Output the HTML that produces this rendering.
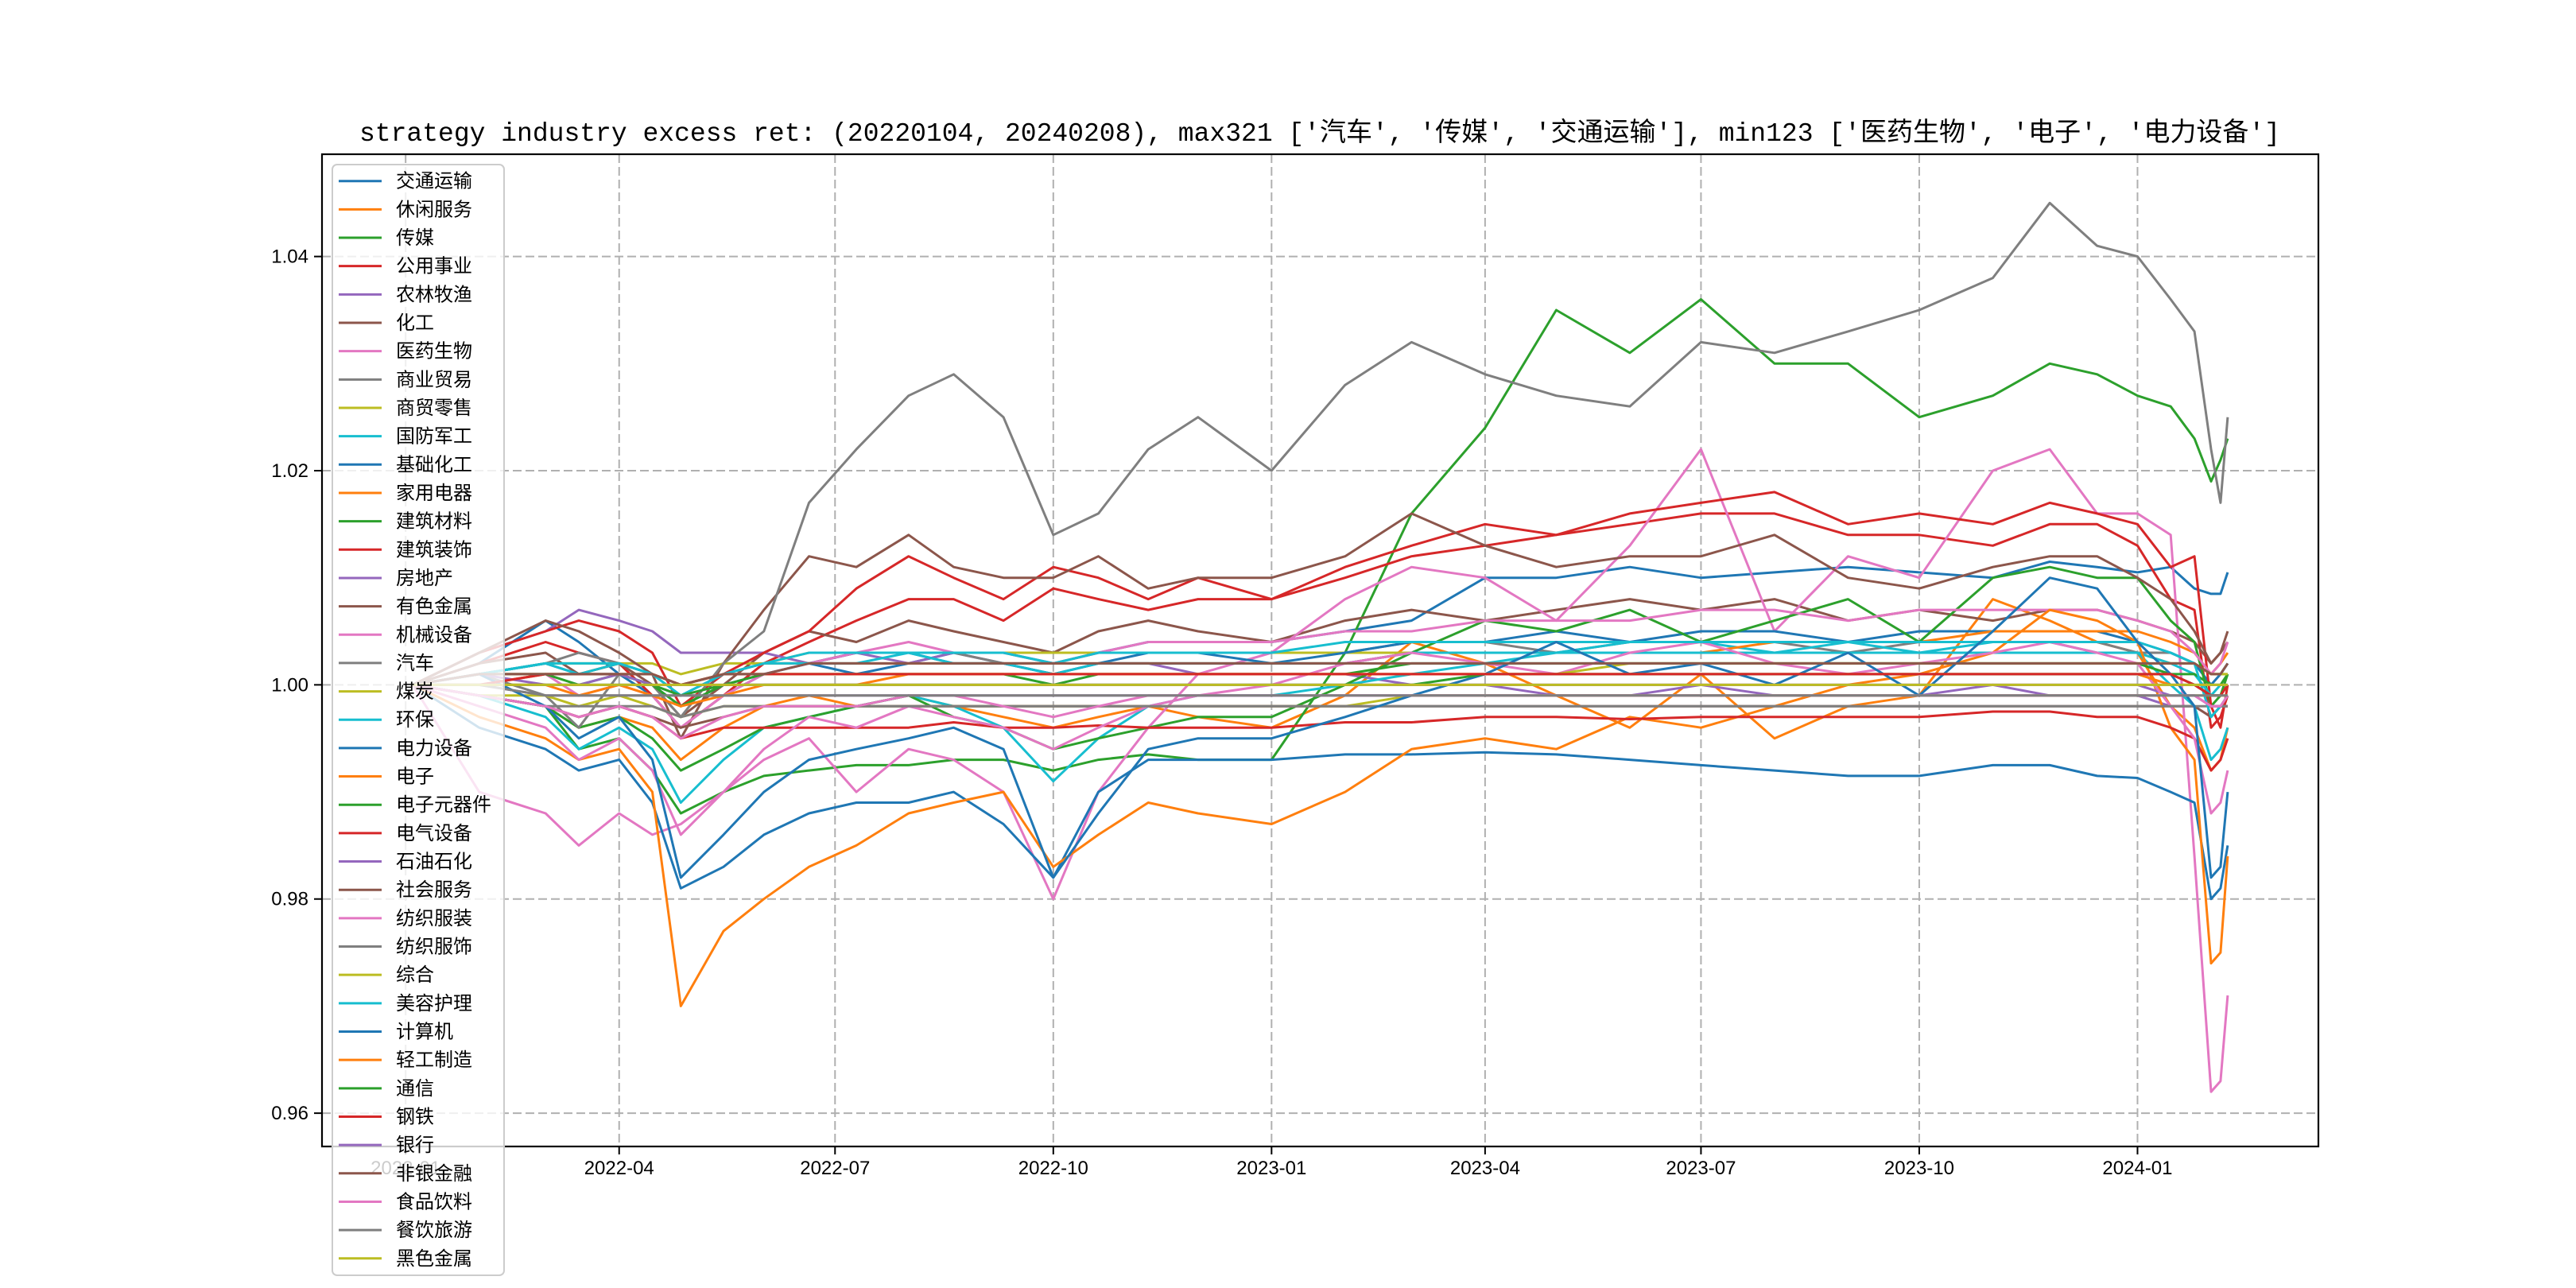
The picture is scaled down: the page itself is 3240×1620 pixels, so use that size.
<!DOCTYPE html>
<html><head><meta charset="utf-8">
<style>
html,body{margin:0;padding:0;background:#fff;}
svg{display:block;}
text{font-family:"Liberation Sans","Noto Sans CJK SC",sans-serif;}
</style></head>
<body>
<svg id="chart" width="3240" height="1620" viewBox="0 0 3240 1620" xmlns="http://www.w3.org/2000/svg">
  <rect x="0" y="0" width="3240" height="1620" fill="#fff"/>
  <text x="1660" y="177" text-anchor="middle" font-size="33" textLength="2416" lengthAdjust="spacingAndGlyphs" style="font-family:'Liberation Mono','Noto Sans CJK SC',monospace">strategy industry excess ret: (20220104, 20240208), max321 ['汽车', '传媒', '交通运输'], min123 ['医药生物', '电子', '电力设备']</text>
  <defs><clipPath id="plotclip"><rect x="405" y="194" width="2511" height="1248"/></clipPath></defs>
  <g id="grid"></g>
  <g id="series" clip-path="url(#plotclip)"></g>
  <rect x="405" y="194" width="2511" height="1248" fill="none" stroke="#000" stroke-width="2.2"/>
  <g id="ticks"></g>
  <g id="legend"></g>
</svg>
<script>
const dates = ['2022-01-04','2022-02-01','2022-03-01','2022-03-15','2022-04-01','2022-04-15','2022-04-27','2022-05-15','2022-06-01','2022-06-20','2022-07-10','2022-08-01','2022-08-20','2022-09-10','2022-10-01','2022-10-20','2022-11-10','2022-12-01','2023-01-01','2023-02-01','2023-03-01','2023-04-01','2023-05-01','2023-06-01','2023-07-01','2023-08-01','2023-09-01','2023-10-01','2023-11-01','2023-11-25','2023-12-15','2024-01-01','2024-01-15','2024-01-25','2024-02-01','2024-02-05','2024-02-08'];
const names = ['交通运输','休闲服务','传媒','公用事业','农林牧渔','化工','医药生物','商业贸易','商贸零售','国防军工','基础化工','家用电器','建筑材料','建筑装饰','房地产','有色金属','机械设备','汽车','煤炭','环保','电力设备','电子','电子元器件','电气设备','石油石化','社会服务','纺织服装','纺织服饰','综合','美容护理','计算机','轻工制造','通信','钢铁','银行','非银金融','食品饮料','餐饮旅游','黑色金属'];
const yTicks = [0.96,0.98,1.00,1.02,1.04];
const yTickLabels = ['0.96','0.98','1.00','1.02','1.04'];
const xTicks = ['2022-01-01','2022-04-01','2022-07-01','2022-10-01','2023-01-01','2023-04-01','2023-07-01','2023-10-01','2024-01-01'];
const xTickLabels = ['2022-01','2022-04','2022-07','2022-10','2023-01','2023-04','2023-07','2023-10','2024-01'];

const v0 = [1.000,1.002,1.006,1.004,1.001,0.999,0.996,0.999,1.001,1.002,1.001,1.002,1.003,1.003,1.002,1.003,1.004,1.004,1.004,1.005,1.006,1.010,1.010,1.011,1.010,1.0105,1.011,1.0105,1.010,1.0115,1.011,1.0105,1.011,1.009,1.0085,1.0085,1.0105];
const v1 = [1.000,0.999,0.998,0.996,0.997,0.996,0.993,0.996,0.998,0.999,0.998,0.999,0.998,0.997,0.996,0.997,0.998,0.997,0.996,0.999,1.004,1.002,0.999,0.996,1.001,0.995,0.998,0.999,1.008,1.006,1.004,1.003,0.998,0.996,0.992,0.993,0.996];
const v2 = [1.000,0.999,0.998,0.994,0.995,0.992,0.988,0.990,0.9915,0.992,0.9925,0.9925,0.993,0.993,0.992,0.993,0.9935,0.993,0.993,1.003,1.016,1.024,1.035,1.031,1.036,1.030,1.030,1.025,1.027,1.030,1.029,1.027,1.026,1.023,1.019,1.021,1.023];
const v3 = [1.000,1.002,1.004,1.003,1.002,0.999,0.996,0.999,1.002,1.004,1.006,1.008,1.008,1.006,1.009,1.008,1.007,1.008,1.008,1.010,1.012,1.013,1.014,1.015,1.016,1.016,1.014,1.014,1.013,1.015,1.015,1.013,1.008,1.007,0.996,0.997,0.999];
const v4 = [1.000,1.003,1.005,1.007,1.006,1.005,1.003,1.003,1.003,1.002,1.003,1.002,1.003,1.002,1.001,1.002,1.002,1.001,1.001,1.001,1.000,1.000,0.999,0.999,1.000,0.999,0.999,0.999,1.000,0.999,0.999,0.999,0.998,0.998,0.997,0.998,0.998];
const v5 = [1.000,1.002,1.003,1.001,1.002,1.000,0.997,1.000,1.003,1.005,1.004,1.006,1.005,1.004,1.003,1.005,1.006,1.005,1.004,1.006,1.007,1.006,1.007,1.008,1.007,1.008,1.006,1.007,1.006,1.007,1.007,1.006,1.005,1.004,1.002,1.003,1.004];
const v6 = [1.000,0.990,0.988,0.985,0.988,0.986,0.987,0.990,0.993,0.995,0.990,0.994,0.993,0.990,0.980,0.990,0.996,1.001,1.003,1.008,1.011,1.010,1.006,1.013,1.022,1.005,1.012,1.010,1.020,1.022,1.016,1.016,1.014,0.984,0.962,0.963,0.971];
const v7 = [1.000,1.001,1.002,1.003,1.002,1.001,1.000,1.001,1.002,1.002,1.003,1.003,1.003,1.002,1.002,1.003,1.003,1.003,1.003,1.003,1.004,1.004,1.003,1.004,1.004,1.004,1.003,1.004,1.004,1.004,1.004,1.003,1.003,1.002,1.001,1.001,1.002];
const v8 = [1.000,1.001,1.002,1.002,1.002,1.002,1.001,1.002,1.002,1.003,1.003,1.003,1.003,1.003,1.003,1.003,1.003,1.003,1.003,1.003,1.003,1.003,1.003,1.003,1.003,1.003,1.003,1.003,1.003,1.003,1.003,1.003,1.002,1.002,1.001,1.001,1.001];
const v9 = [1.000,0.999,0.997,0.994,0.996,0.994,0.989,0.993,0.996,0.997,0.998,0.999,0.998,0.996,0.991,0.995,0.998,0.999,0.999,1.000,1.001,1.002,1.003,1.004,1.004,1.003,1.004,1.003,1.004,1.004,1.003,1.003,1.000,0.998,0.993,0.994,0.996];
const v10 = [1.000,1.001,1.002,1.001,1.001,1.000,0.998,1.000,1.001,1.002,1.003,1.003,1.002,1.002,1.001,1.002,1.003,1.003,1.002,1.003,1.004,1.004,1.005,1.004,1.005,1.005,1.004,1.005,1.005,1.005,1.005,1.004,1.003,1.002,1.000,1.001,1.002];
const v11 = [1.000,1.000,1.001,1.001,1.002,1.001,1.000,1.001,1.002,1.002,1.002,1.002,1.002,1.002,1.002,1.002,1.002,1.002,1.002,1.002,1.003,1.003,1.003,1.003,1.003,1.004,1.004,1.004,1.005,1.005,1.005,1.005,1.004,1.003,1.001,1.002,1.003];
const v12 = [1.000,0.999,0.998,0.996,0.997,0.995,0.992,0.994,0.996,0.997,0.998,0.999,0.997,0.996,0.994,0.995,0.996,0.997,0.997,1.000,1.003,1.006,1.005,1.007,1.004,1.006,1.008,1.004,1.010,1.011,1.010,1.010,1.006,1.004,0.998,0.999,1.001];
const v13 = [1.000,1.003,1.005,1.006,1.005,1.003,0.998,1.001,1.003,1.005,1.009,1.012,1.010,1.008,1.011,1.010,1.008,1.010,1.008,1.011,1.013,1.015,1.014,1.016,1.017,1.018,1.015,1.016,1.015,1.017,1.016,1.015,1.011,1.012,0.998,0.996,1.000];
const v14 = [1.000,1.000,0.999,0.999,0.999,0.999,0.999,0.999,0.999,0.999,0.999,0.999,0.999,0.999,0.999,0.999,0.999,0.999,0.999,0.999,0.999,0.999,0.999,0.999,0.999,0.999,0.999,0.999,0.999,0.999,0.999,0.999,0.999,0.999,0.998,0.998,0.998];
const v15 = [1.000,1.003,1.006,1.005,1.003,1.001,0.995,1.002,1.007,1.012,1.011,1.014,1.011,1.010,1.010,1.012,1.009,1.010,1.010,1.012,1.016,1.013,1.011,1.012,1.012,1.014,1.010,1.009,1.011,1.012,1.012,1.010,1.008,1.005,1.002,1.003,1.005];
const v16 = [1.000,1.001,1.001,0.999,1.000,0.999,0.996,0.999,1.001,1.002,1.003,1.004,1.003,1.003,1.002,1.003,1.004,1.004,1.004,1.005,1.005,1.006,1.006,1.006,1.007,1.007,1.006,1.007,1.007,1.007,1.007,1.006,1.005,1.003,1.001,1.002,1.004];
const v17 = [1.000,1.001,0.999,0.996,1.001,1.000,0.997,1.002,1.005,1.017,1.022,1.027,1.029,1.025,1.014,1.016,1.022,1.025,1.020,1.028,1.032,1.029,1.027,1.026,1.032,1.031,1.033,1.035,1.038,1.045,1.041,1.040,1.036,1.033,1.022,1.017,1.025];
const v18 = [1.000,0.999,0.999,0.998,0.999,0.998,0.997,0.998,0.998,0.998,0.998,0.998,0.998,0.998,0.998,0.998,0.998,0.998,0.998,0.998,0.999,0.999,0.999,0.999,0.999,0.999,0.999,0.999,0.999,0.999,0.999,0.999,0.999,0.999,0.999,0.999,0.999];
const v19 = [1.000,1.001,1.002,1.002,1.002,1.001,0.999,1.001,1.002,1.002,1.002,1.003,1.002,1.002,1.001,1.002,1.002,1.002,1.002,1.002,1.003,1.003,1.003,1.003,1.003,1.003,1.003,1.003,1.003,1.003,1.003,1.003,1.002,1.001,0.999,1.000,1.000];
const v20 = [1.000,0.996,0.994,0.992,0.993,0.989,0.981,0.983,0.986,0.988,0.989,0.989,0.990,0.987,0.982,0.990,0.993,0.993,0.993,0.9935,0.9935,0.9937,0.9935,0.993,0.9925,0.992,0.9915,0.9915,0.9925,0.9925,0.9915,0.9913,0.990,0.989,0.980,0.981,0.985];
const v21 = [1.000,0.997,0.995,0.993,0.994,0.990,0.970,0.977,0.980,0.983,0.985,0.988,0.989,0.990,0.983,0.986,0.989,0.988,0.987,0.990,0.994,0.995,0.994,0.997,0.996,0.998,1.000,1.001,1.003,1.007,1.006,1.004,0.996,0.993,0.974,0.975,0.984];
const v22 = [1.000,1.001,1.001,1.000,1.001,1.000,0.998,1.000,1.001,1.001,1.001,1.001,1.001,1.001,1.000,1.001,1.001,1.001,1.001,1.001,1.002,1.002,1.002,1.002,1.002,1.002,1.002,1.002,1.002,1.002,1.002,1.002,1.001,1.001,1.000,1.000,1.001];
const v23 = [1.000,0.999,0.998,0.997,0.998,0.997,0.995,0.996,0.996,0.996,0.996,0.996,0.9965,0.996,0.996,0.9962,0.996,0.996,0.996,0.9965,0.9965,0.997,0.997,0.9968,0.997,0.997,0.997,0.997,0.9975,0.9975,0.997,0.997,0.996,0.995,0.992,0.993,0.995];
const v24 = [1.000,1.001,1.000,1.000,1.001,1.000,0.999,1.000,1.000,1.000,1.000,1.000,1.000,1.000,1.000,1.000,1.000,1.000,1.000,1.000,1.000,1.000,1.000,1.000,1.000,1.000,1.000,1.000,1.000,1.000,1.000,1.000,0.999,0.999,0.998,0.998,0.999];
const v25 = [1.000,0.999,0.998,0.997,0.998,0.997,0.996,0.997,0.998,0.998,0.998,0.998,0.998,0.998,0.998,0.998,0.998,0.998,0.998,0.998,0.998,0.998,0.998,0.998,0.998,0.998,0.998,0.998,0.998,0.998,0.998,0.998,0.998,0.998,0.997,0.998,0.998];
const v26 = [1.000,0.998,0.996,0.993,0.995,0.992,0.986,0.990,0.994,0.997,0.996,0.998,0.997,0.996,0.994,0.996,0.998,0.999,1.000,1.002,1.003,1.002,1.001,1.003,1.004,1.002,1.001,1.002,1.003,1.004,1.003,1.002,0.998,0.995,0.988,0.989,0.992];
const v27 = [1.000,0.999,0.998,0.998,0.998,0.998,0.997,0.998,0.998,0.998,0.998,0.998,0.998,0.998,0.998,0.998,0.998,0.998,0.998,0.998,0.998,0.998,0.998,0.998,0.998,0.998,0.998,0.998,0.998,0.998,0.998,0.998,0.998,0.998,0.998,0.998,0.998];
const v28 = [1.000,1.001,1.001,1.001,1.001,1.001,1.000,1.001,1.001,1.001,1.001,1.001,1.001,1.001,1.001,1.001,1.001,1.001,1.001,1.001,1.001,1.001,1.001,1.002,1.002,1.002,1.002,1.002,1.002,1.002,1.002,1.002,1.002,1.002,1.001,1.001,1.001];
const v29 = [1.000,1.001,1.002,1.001,1.002,1.001,0.999,1.001,1.002,1.003,1.003,1.003,1.003,1.003,1.002,1.003,1.003,1.003,1.003,1.004,1.004,1.004,1.004,1.004,1.004,1.004,1.004,1.004,1.004,1.004,1.004,1.004,1.003,1.002,0.997,0.998,0.999];
const v30 = [1.000,1.001,0.998,0.995,0.997,0.993,0.982,0.986,0.990,0.993,0.994,0.995,0.996,0.994,0.982,0.988,0.994,0.995,0.995,0.997,0.999,1.001,1.004,1.001,1.002,1.000,1.003,0.999,1.005,1.010,1.009,1.004,1.001,0.998,0.982,0.983,0.990];
const v31 = [1.000,1.000,1.000,0.999,1.000,0.999,0.998,0.999,1.000,1.000,1.000,1.001,1.001,1.001,1.001,1.001,1.001,1.001,1.001,1.001,1.001,1.001,1.001,1.001,1.001,1.001,1.001,1.001,1.001,1.001,1.001,1.001,1.000,1.000,0.999,0.999,1.000];
const v32 = [1.000,1.000,1.000,1.000,1.000,1.000,0.999,1.000,1.000,1.000,1.000,1.000,1.000,1.000,1.000,1.000,1.000,1.000,1.000,1.000,1.000,1.001,1.001,1.001,1.001,1.001,1.001,1.001,1.001,1.001,1.001,1.001,1.001,1.000,0.999,0.999,1.000];
const v33 = [1.000,1.000,1.001,1.001,1.001,1.001,1.000,1.001,1.001,1.001,1.001,1.001,1.001,1.001,1.001,1.001,1.001,1.001,1.001,1.001,1.001,1.001,1.001,1.001,1.001,1.001,1.001,1.001,1.001,1.001,1.001,1.001,1.001,1.000,0.999,0.999,1.000];
const v34 = [1.000,1.000,1.000,1.000,1.000,1.000,1.000,1.000,1.000,1.000,1.000,1.000,1.000,1.000,1.000,1.000,1.000,1.000,1.000,1.000,1.000,1.000,1.000,1.000,1.000,1.000,1.000,1.000,1.000,1.000,1.000,1.000,1.000,1.000,1.000,1.000,1.000];
const v35 = [1.000,1.001,1.001,1.001,1.001,1.001,1.000,1.001,1.001,1.002,1.002,1.002,1.002,1.002,1.002,1.002,1.002,1.002,1.002,1.002,1.002,1.002,1.002,1.002,1.002,1.002,1.002,1.002,1.002,1.002,1.002,1.002,1.002,1.002,1.001,1.001,1.002];
const v36 = [1.000,0.999,0.998,0.997,0.998,0.997,0.995,0.997,0.998,0.998,0.998,0.999,0.999,0.998,0.997,0.998,0.999,0.999,0.999,0.999,0.999,0.999,0.999,0.999,0.999,0.999,0.999,0.999,0.999,0.999,0.999,0.999,0.999,0.999,0.998,0.998,0.999];
const v37 = [1.000,1.000,0.999,0.999,0.999,0.999,0.999,0.999,0.999,0.999,0.999,0.999,0.999,0.999,0.999,0.999,0.999,0.999,0.999,0.999,0.999,0.999,0.999,0.999,0.999,0.999,0.999,0.999,0.999,0.999,0.999,0.999,0.999,0.999,0.999,0.999,0.999];
const v38 = [1.000,1.000,1.000,1.000,1.000,1.000,1.000,1.000,1.000,1.000,1.000,1.000,1.000,1.000,1.000,1.000,1.000,1.000,1.000,1.000,1.000,1.000,1.000,1.000,1.000,1.000,1.000,1.000,1.000,1.000,1.000,1.000,1.000,1.000,1.000,1.000,1.000];
const seriesList = [v0,v1,v2,v3,v4,v5,v6,v7,v8,v9,v10,v11,v12,v13,v14,v15,v16,v17,v18,v19,v20,v21,v22,v23,v24,v25,v26,v27,v28,v29,v30,v31,v32,v33,v34,v35,v36,v37,v38];

const palette = ['#1f77b4','#ff7f0e','#2ca02c','#d62728','#9467bd','#8c564b','#e377c2','#7f7f7f','#bcbd22','#17becf'];
const NS = 'http://www.w3.org/2000/svg';
const AX = {left:405, right:2916, top:194, bottom:1442};
const t0 = Date.parse('2022-01-04'), t1 = Date.parse('2024-02-08');
const xPad = 0.05;
function xOf(d){
  const span = t1 - t0;
  const lo = t0 - span*xPad, hi = t1 + span*xPad;
  return AX.left + (Date.parse(d) - lo)/(hi - lo)*(AX.right - AX.left);
}
const yMin = 0.95689, yMax = 1.04955;
function yOf(v){ return AX.bottom - (v - yMin)/(yMax - yMin)*(AX.bottom - AX.top); }

function mk(tag, attrs, parent){
  const el = document.createElementNS(NS, tag);
  for (const k in attrs) el.setAttribute(k, attrs[k]);
  parent.appendChild(el);
  return el;
}
const grid = document.getElementById('grid');
const ticks = document.getElementById('ticks');
const seriesG = document.getElementById('series');
const legend = document.getElementById('legend');

yTicks.forEach((v,i)=>{
  const y = yOf(v);
  const g = mk('line',{x1:AX.left,x2:AX.right,y1:y,y2:y,stroke:'#b0b0b0','stroke-width':2,'stroke-dasharray':'11,5'},grid);
  
  
  const tk = mk('line',{x1:AX.left-10,x2:AX.left,y1:y,y2:y,stroke:'#000','stroke-width':2},ticks);
  
  
  const tx = mk('text',{x:AX.left-17,y:y+8,'text-anchor':'end','font-size':24,fill:'#000'},ticks);
  tx.textContent = yTickLabels[i];
  
  
});
xTicks.forEach((d,i)=>{
  const x = xOf(d);
  const g = mk('line',{x1:x,x2:x,y1:AX.top,y2:AX.bottom,stroke:'#b0b0b0','stroke-width':2,'stroke-dasharray':'11,5'},grid);
  
  
  const tk = mk('line',{x1:x,x2:x,y1:AX.bottom,y2:AX.bottom+10,stroke:'#000','stroke-width':2},ticks);
  
  
  const tx = mk('text',{x:x,y:AX.bottom+35,'text-anchor':'middle','font-size':24,fill:'#000'},ticks);
  tx.textContent = xTickLabels[i];
  
  
});

seriesList.forEach((vals,i)=>{
  const pts = vals.map((v,j)=>xOf(dates[j]).toFixed(1)+','+yOf(v).toFixed(1)).join(' ');
  const pl = mk('polyline',{points:pts,fill:'none',stroke:palette[i%10],'stroke-width':3,'stroke-linejoin':'round'},seriesG);
  
  
});

const LG = {x:418, y:207, w:216, h:1397, y0:227.7, dy:35.66};
const box = mk('rect',{x:LG.x,y:LG.y,width:LG.w,height:LG.h,rx:6,fill:'#fff','fill-opacity':0.8,stroke:'#cccccc','stroke-width':2},legend);


names.forEach((n,i)=>{
  const y = LG.y0 + i*LG.dy;
  const ln = mk('line',{x1:426,x2:480,y1:y,y2:y,stroke:palette[i%10],'stroke-width':3},legend);
  
  
  const tx = mk('text',{x:498,y:y+8,'font-size':24,fill:'#000'},legend);
  tx.textContent = n;
  
  
});
</script>
</body></html>
